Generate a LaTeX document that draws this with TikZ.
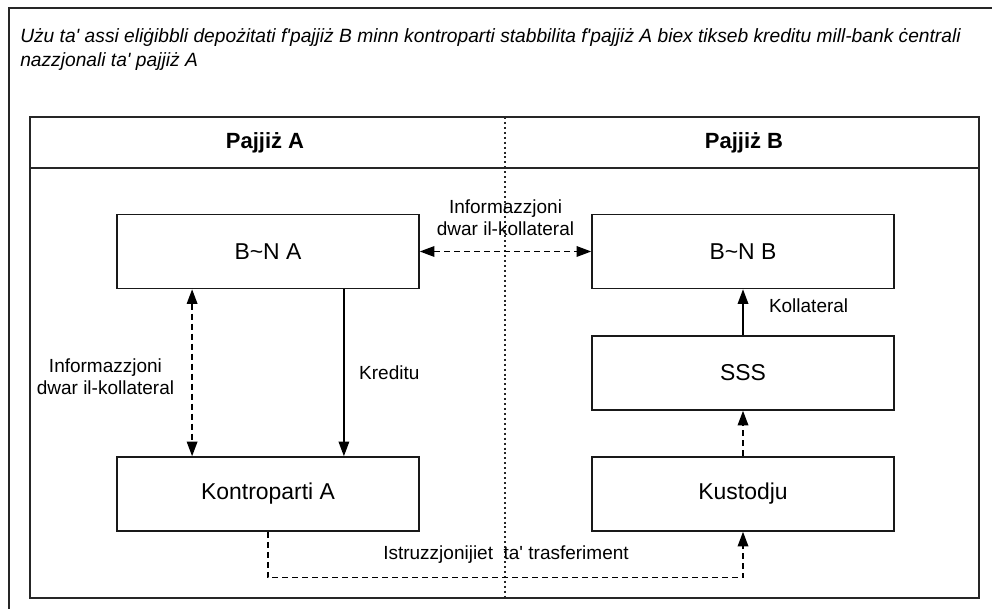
\documentclass[tikz,border=0pt]{standalone}
\usepackage{fontspec}
\setmainfont{Liberation Sans}
\usetikzlibrary{positioning}
\usetikzlibrary{arrows.meta,calc}
\tikzstyle{frame}=[draw=black!85,line width=1.3pt]
\tikzstyle{entity}=[rectangle,draw=black!90,line width=1.2pt,minimum width=226.5pt,minimum height=55.5pt,inner sep=0pt,font=\fontsize{17.2}{20}\selectfont]
\tikzstyle{edge} = [draw,line width=1pt,-{Triangle[length=11pt,width=8pt]}]
\tikzstyle{dashededge} = [edge,dash pattern=on 4.5pt off 3pt]
\tikzstyle{both} = [{Triangle[length=11pt,width=8pt]}-{Triangle[length=11pt,width=8pt]}]
\tikzstyle{weight} = [font=\fontsize{14.25}{17}\selectfont,align=center,inner sep=0pt]
\tikzstyle{header} = [font=\bfseries\fontsize{16.5}{20}\selectfont]

\begin{document}
\begin{tikzpicture}[x=0.75pt,y=-0.75pt]
\useasboundingbox (0,0) rectangle (992,609);

%outer and inner frames
    \draw[frame] (9,609) -- (9,8) -- (992,8);
    \draw[frame] (30,117) rectangle (979,598);
    \draw[frame] (30,168) -- (979,168);
    \draw[black!85,line width=1pt,dash pattern=on 1.5pt off 2.2pt] (505,117) -- (505,598);

    \node[anchor=north west,align=left,inner sep=0pt,font=\itshape\fontsize{14.4}{18}\selectfont] (title) at (20,28)
      {Użu ta\textquotesingle{} assi eliġibbli depożitati f\textquotesingle pajjiż B minn kontroparti stabbilita f\textquotesingle pajjiż A biex tikseb kreditu mill-bank ċentrali\\nazzjonali ta\textquotesingle{} pajjiż A};

    \node[header] (hA) at (265,143) {Pajjiż A};
    \node[header] (hB) at (744,143) {Pajjiż B};

    % the boxes
  \foreach \pos/\name/\label in {{(268,251.5)/BNA/B\textasciitilde N A}, {(268,494)/KA/Kontroparti A}, {(743,251.5)/BNB/B\textasciitilde N B}, {(743,373)/SSS/SSS}, {(743,494)/KU/Kustodju}}
        \node[entity] (\name) at \pos {\label};

    % Connect boxes
    \path[dashededge,both] (BNA.east) -- node[weight,above=11pt] {Informazzjoni\\dwar il-kollateral} (BNB.west);
    \path[dashededge,both] ($(BNA.south west)!0.25!(BNA.south east)$) -- node[weight,left=13pt,yshift=-3pt] {Informazzjoni\\dwar il-kollateral} ($(KA.north west)!0.25!(KA.north east)$);
    \path[edge] ($(BNA.south west)!0.75!(BNA.south east)$) -- node[weight,right=11pt] {Kreditu} ($(KA.north west)!0.75!(KA.north east)$);
    \path[edge] (SSS.north) -- node[weight,right=19pt,yshift=5pt] {Kollateral} (BNB.south);
    \path[dashededge] (KU.north) -- (SSS.south);
    \path[dashededge] (KA.south) -- ($(KA.south)+(0,46)$) -| (KU.south);
    \node[weight] (instr) at (506,555) {Istruzzjonijiet\ \ ta\textquotesingle{} trasferiment};

\end{tikzpicture}
\end{document}
